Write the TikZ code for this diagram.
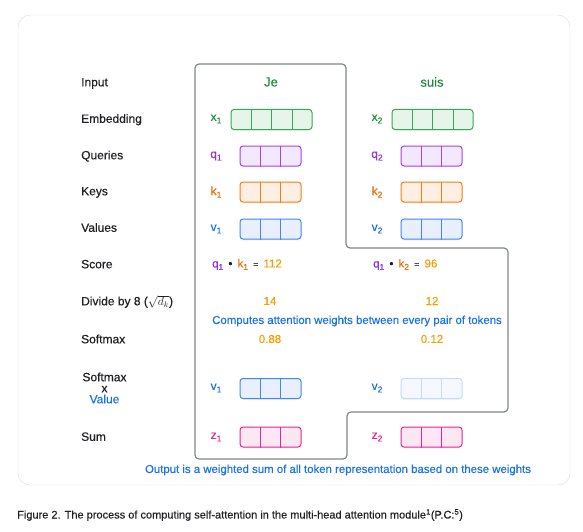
\documentclass[tikz,border=0pt]{standalone}
\usepackage{fontspec}
\setmainfont{Liberation Sans}[UprightFeatures={FakeBold=0.35}]
\usepackage{tikz}
\usetikzlibrary{positioning,calc,shadows}
\definecolor{nInk}{HTML}{202124}
\definecolor{nEdge}{HTML}{80868B}
\definecolor{nCard}{HTML}{DADCE0}
\definecolor{nNum}{HTML}{F5A000}
\definecolor{gLine}{HTML}{34A853}
\definecolor{gFill}{HTML}{E6F4EA}
\definecolor{gText}{HTML}{1E8E3E}
\definecolor{pLine}{HTML}{A142F4}
\definecolor{pFill}{HTML}{F3E8FD}
\definecolor{pText}{HTML}{9334E6}
\definecolor{oLine}{HTML}{FA7B17}
\definecolor{oFill}{HTML}{FEEFE3}
\definecolor{oText}{HTML}{E8710A}
\definecolor{bLine}{HTML}{4285F4}
\definecolor{bFill}{HTML}{E8F0FE}
\definecolor{bText}{HTML}{1A73E8}
\definecolor{zLine}{HTML}{E52592}
\definecolor{zFill}{HTML}{FDE7F3}
\definecolor{fLine}{HTML}{C6DAFC}
\definecolor{fFill}{HTML}{F5F9FF}
\newcommand{\tok}[2]{#1\raisebox{-0.4ex}{\fontsize{8.5}{9}\selectfont #2}}

\begin{document}
\begin{tikzpicture}[x=1pt, y=-1pt,
  rowlbl/.style={anchor=west, inner sep=0pt, text height=8.6pt, text depth=0pt,
    font=\fontsize{12}{14}\selectfont, text=nInk},
  word/.style={font=\fontsize{13}{15}\selectfont, text=gText},
  sublbl/.style={font=\fontsize{12}{14}\selectfont},
  vbox/.style={rounded corners=3pt, line width=1pt, minimum height=20pt, inner sep=0pt,
    drop shadow={opacity=0.08, shadow xshift=0pt, shadow yshift=-1.5pt}},
  num/.style={font=\fontsize{11.5}{13}\selectfont, text=nNum},
  note/.style={font=\fontsize{11.4}{13}\selectfont, text=bText}]
  \useasboundingbox (0,0) rectangle (583,532);
  \draw[nCard, fill=white, rounded corners=12pt] (18,15) rectangle (570,485);

  % outline round the tokens
  \draw[nEdge, line width=1.2pt, rounded corners=4pt]
    (195,64) -- (346,64) -- (346,248) -- (508,248) -- (508,412) -- (347,412)
    -- (347,459) -- (195,459) -- cycle;

  % row labels
  \node[rowlbl] (lInput) at (81,82) {Input};
  \node[rowlbl] (lEmb) at (81,118.5) {Embedding};
  \node[rowlbl] (lQry) at (81,155) {Queries};
  \node[rowlbl] (lKey) at (81,191) {Keys};
  \node[rowlbl] (lVal) at (81,227.5) {Values};
  \node[rowlbl] (lScore) at (81,264) {Score};
  \node[rowlbl] (lDiv) at (81,301) {Divide by 8 (\ensuremath{\sqrt{d_k}})};
  \node[rowlbl] (lSoft) at (81,339) {Softmax};
  \node[font=\fontsize{12}{12}\selectfont, text=nInk, align=center, inner sep=0pt] (lSxV) at (104.5,388)
    {Softmax\\[-1pt]x\\[-1pt]\textcolor{bText}{Value}};
  \node[rowlbl] (lSum) at (81,436.5) {Sum};

  % words
  \node[word] (w1) at (271,82) {Je};
  \node[word] (w2) at (432,82) {suis};

  % vectors
  \foreach \c/\xs/\xb in {1/216/271.5, 2/377/432.5} {
    \node[sublbl, text=gText] (x\c) at (\xs,119) {\tok{x}{\c}};
    \node[vbox, draw=gLine, fill=gFill, minimum width=81pt] (e\c) at (\xb,119.5) {};
    \node[sublbl, text=pText] (qs\c) at (\xs,156) {\tok{q}{\c}};
    \node[vbox, draw=pLine, fill=pFill, minimum width=61pt] (q\c) at (\xb-1,156) {};
    \node[sublbl, text=oText] (ks\c) at (\xs,192) {\tok{k}{\c}};
    \node[vbox, draw=oLine, fill=oFill, minimum width=61pt] (k\c) at (\xb-1,192) {};
    \node[sublbl, text=bText] (vs\c) at (\xs,229) {\tok{v}{\c}};
    \node[vbox, draw=bLine, fill=bFill, minimum width=61pt] (v\c) at (\xb-1,229) {};
    \node[sublbl, text=bText] (ws\c) at (\xs,388) {\tok{v}{\c}};
    \node[sublbl, text=zLine] (zs\c) at (\xs,437) {\tok{z}{\c}};
    \node[vbox, draw=zLine, fill=zFill, minimum width=61pt] (z\c) at (\xb-1,437) {};
  }
  \node[vbox, draw=bLine, fill=bFill, minimum width=61pt] (sv1) at (270.5,388.5) {};
  \node[vbox, draw=fLine, fill=fFill, minimum width=61pt] (sv2) at (431.5,388.5) {};

  % cell lines
  \foreach \b/\n/\c in {e1/4/gLine, e2/4/gLine, q1/3/pLine, q2/3/pLine, k1/3/oLine, k2/3/oLine,
      v1/3/bLine, v2/3/bLine, sv1/3/bLine, sv2/3/fLine, z1/3/zLine, z2/3/zLine} {
    \pgfmathtruncatemacro\m{\n-1}
    \foreach \i in {1,...,\m}
      \draw[\c, line width=1pt] ($(\b.north west)!\i/\n!(\b.north east)$) -- ($(\b.south west)!\i/\n!(\b.south east)$);
  }

  % scores
  \node[anchor=west, inner sep=0pt, font=\fontsize{11.5}{13}\selectfont] (s1) at (212,264.5)
    {\textcolor{pText}{\tok{q}{1}}\, \textcolor{nInk}{\textbullet}\, \textcolor{oText}{\tok{k}{1}}\, \textcolor{nInk}{\fontsize{9}{9}\selectfont =}\, \textcolor{nNum}{112}};
  \node[anchor=west, inner sep=0pt, font=\fontsize{11.5}{13}\selectfont] (s2) at (373,264.5)
    {\textcolor{pText}{\tok{q}{1}}\, \textcolor{nInk}{\textbullet}\, \textcolor{oText}{\tok{k}{2}}\, \textcolor{nInk}{\fontsize{9}{9}\selectfont =}\, \textcolor{nNum}{96}};
  \node[num] (d1) at (270,301) {14};
  \node[num] (d2) at (432,301) {12};
  \node[note] (nAttn) at (357,321) {Computes attention weights between every pair of tokens};
  \node[num] (p1) at (270,339) {0.88};
  \node[num] (p2) at (432,339) {0.12};
  \node[note] (nOut) at (338,470) {Output is a weighted sum of all token representation based on these weights};

  % caption
  \node[anchor=west, inner sep=0pt, font=\fontsize{11}{12}\selectfont, text=nInk] (cap) at (17,515)
    {Figure 2. The process of computing self-attention in the multi-head attention module\textsuperscript{1}(P.C:\textsuperscript{5})};
\end{tikzpicture}
\end{document}
